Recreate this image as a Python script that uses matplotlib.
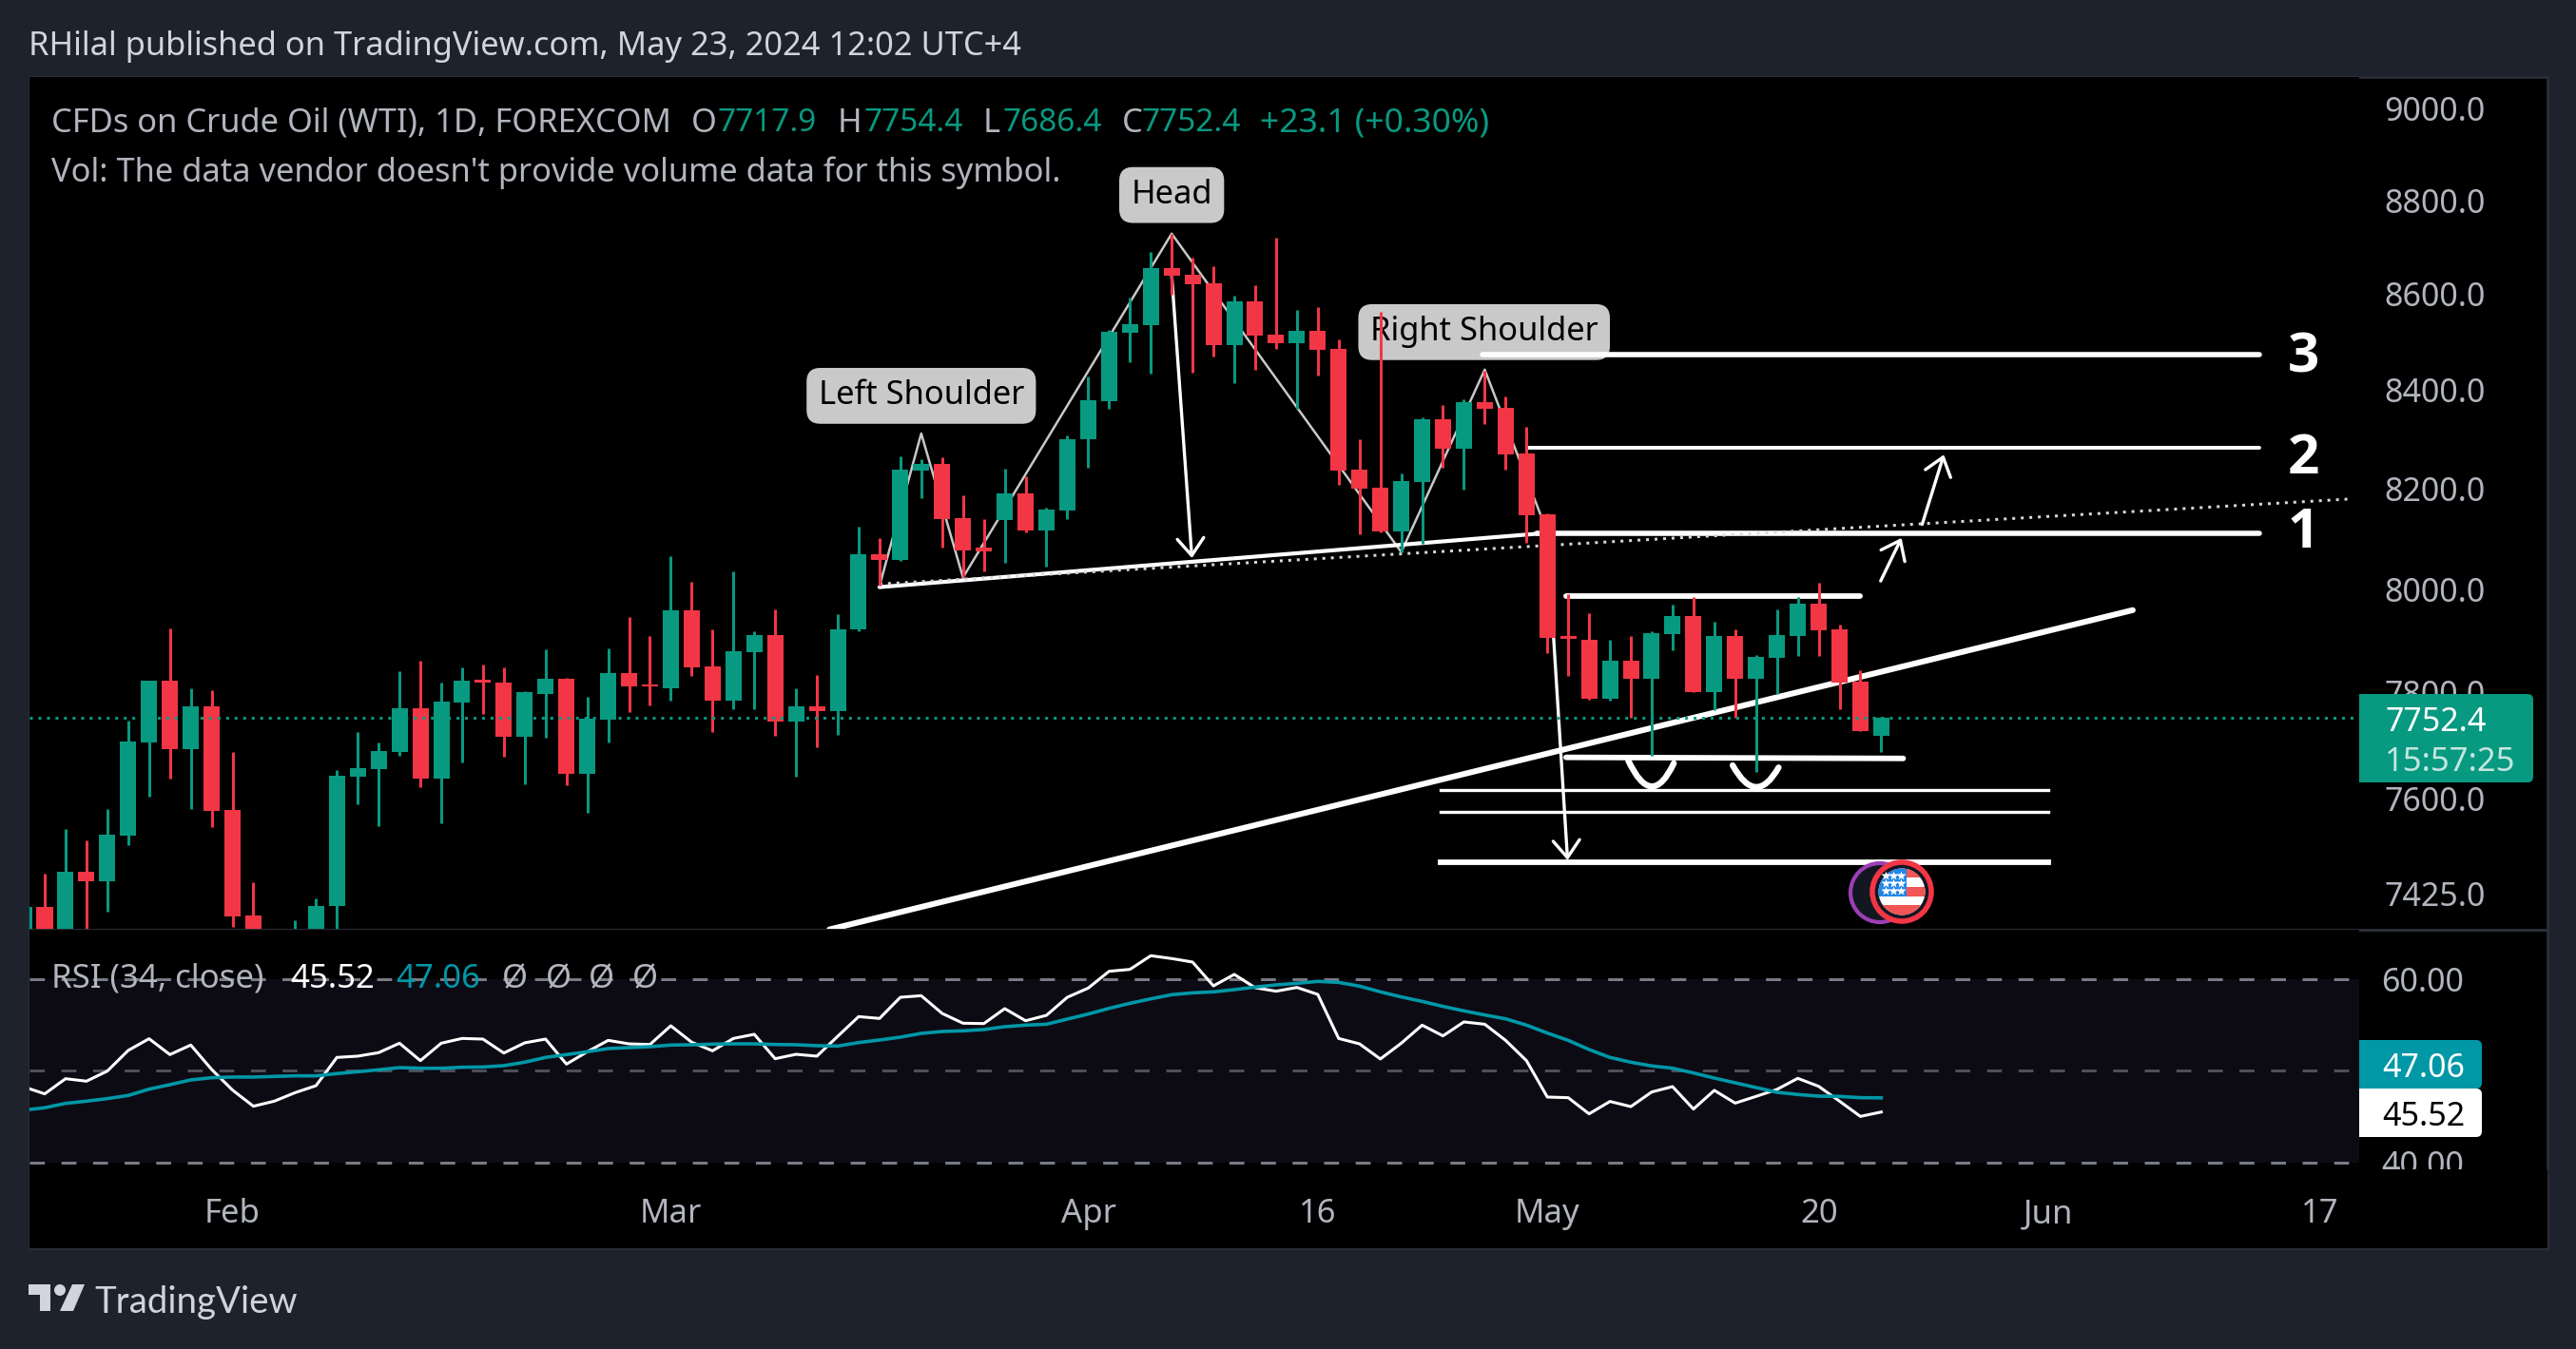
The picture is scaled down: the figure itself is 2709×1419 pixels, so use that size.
import numpy as np
import matplotlib
matplotlib.use('Agg')
import matplotlib.pyplot as plt
from matplotlib.patches import Rectangle, Circle, FancyBboxPatch, Polygon, PathPatch
from matplotlib.path import Path
from matplotlib.lines import Line2D
from matplotlib.transforms import Affine2D

W, H = 2709, 1419
plt.rcParams['font.family'] = ['Noto Sans', 'DejaVu Sans']
plt.rcParams['lines.scale_dashes'] = False

# candles, first one is the half hidden bar at the left edge
opens = [7340, 7401, 7330, 7465, 7448, 7531, 7705, 7823, 7693, 7773, 7579, 7385, 7320, 7300, 7340,
         7402, 7641, 7655, 7687, 7770, 7637, 7781, 7824, 7819, 7716, 7797, 7826, 7646, 7748, 7837,
         7815, 7808, 7959, 7850, 7785, 7877, 7911, 7745, 7773, 7765, 7921, 8069, 8058, 8236, 8249,
         8141, 8081, 8137, 8190, 8116, 8156, 8299, 8377, 8519, 8535, 8655, 8641, 8622, 8493, 8585,
         8515, 8497, 8523, 8485, 8238, 8201, 8114, 8213, 8340, 8280, 8375, 8364, 8271, 8148, 7909,
         7902, 7788, 7861, 7826, 7913, 7948, 7801, 7909, 7826, 7867, 7909, 7972, 7922, 7821, 7717.9]
highs = [7401, 7462, 7544, 7523, 7581, 7747, 7823, 7924, 7808, 7805, 7687, 7446, 7355, 7377, 7417,
         7654, 7725, 7705, 7841, 7861, 7819, 7849, 7853, 7849, 7803, 7883, 7828, 7792, 7885, 7946,
         7909, 8065, 8014, 7922, 8035, 7918, 7961, 7808, 7834, 7952, 8124, 8101, 8265, 8259, 8263,
         8186, 8139, 8239, 8224, 8162, 8308, 8428, 8525, 8592, 8689, 8728, 8677, 8659, 8597, 8618,
         8719, 8567, 8573, 8505, 8299, 8563, 8230, 8344, 8370, 8381, 8440, 8387, 8325, 8150, 7990,
         7953, 7902, 7909, 7918, 7970, 7985, 7937, 7922, 7872, 7961, 7985, 8013, 7931, 7843, 7754.4]
lows = [7320, 7320, 7310, 7350, 7392, 7513, 7603, 7637, 7581, 7547, 7365, 7300, 7270, 7280, 7320,
        7340, 7590, 7549, 7680, 7621, 7554, 7667, 7759, 7678, 7627, 7714, 7625, 7574, 7705, 7763,
        7776, 7785, 7832, 7725, 7769, 7769, 7718, 7641, 7696, 7720, 7918, 8006, 8056, 8181, 8081,
        8024, 8035, 8052, 8112, 8044, 8139, 8242, 8362, 8458, 8434, 8599, 8436, 8470, 8414, 8442,
        8485, 8362, 8430, 8207, 8109, 8112, 8073, 8090, 8242, 8198, 8331, 8238, 8092, 7876, 7832,
        7786, 7785, 7752, 7680, 7881, 7800, 7767, 7752, 7650, 7797, 7870, 7870, 7768, 7726, 7686.4]
closes = [7401, 7340, 7465, 7448, 7533, 7707, 7823, 7693, 7773, 7577, 7384, 7330, 7290, 7350, 7403,
          7642, 7657, 7689, 7770, 7637, 7783, 7823, 7819, 7716, 7800, 7826, 7646, 7750, 7837, 7812,
          7811, 7959, 7848, 7785, 7879, 7911, 7745, 7773, 7765, 7922, 8069, 8058, 8238, 8250, 8139,
          8077, 8075, 8190, 8116, 8158, 8300, 8379, 8521, 8537, 8655, 8639, 8620, 8493, 8585, 8513,
          8497, 8523, 8483, 8236, 8200, 8114, 8215, 8340, 8280, 8375, 8362, 8269, 8147, 7905, 7904,
          7788, 7861, 7826, 7914, 7948, 7801, 7909, 7826, 7868, 7911, 7972, 7920, 7819, 7727, 7752.4]

rsi = [48.26, 47.50, 49.15, 48.88, 49.98, 52.23, 53.51, 51.78, 52.82, 50.16, 47.91, 46.15, 46.70, 47.63, 48.39,
       51.47, 51.61, 51.99, 53.02, 51.12, 53.02, 53.54, 53.47, 51.95, 53.06, 53.47, 50.74, 52.09, 53.33, 52.95,
       52.88, 54.92, 53.13, 52.19, 53.54, 53.99, 51.33, 51.81, 51.61, 53.78, 55.92, 55.72, 58.03, 58.20, 56.27,
       55.20, 55.16, 56.79, 55.47, 56.06, 58.03, 59.03, 60.86, 61.07, 62.56, 62.25, 61.87, 59.27, 60.52, 59.07,
       58.69, 59.10, 58.34, 53.54, 52.95, 51.30, 53.02, 54.99, 53.82, 55.34, 55.09, 53.33, 51.12, 47.15, 47.08,
       45.32, 46.67, 46.11, 47.70, 48.29, 45.84, 47.88, 46.49, 47.22, 47.98, 49.19, 48.32, 46.70, 45.04, 45.52]
rsi_ma = [45.73, 45.98, 46.46, 46.70, 46.98, 47.32, 48.01, 48.50, 49.02, 49.26, 49.33, 49.33, 49.40, 49.46, 49.46,
          49.71, 49.91, 50.12, 50.36, 50.29, 50.29, 50.40, 50.43, 50.57, 50.95, 51.47, 51.78, 52.09, 52.44, 52.54,
          52.64, 52.82, 52.85, 52.92, 52.95, 52.95, 52.88, 52.85, 52.75, 52.71, 53.09, 53.37, 53.68, 54.09, 54.30,
          54.37, 54.51, 54.82, 54.99, 55.09, 55.65, 56.20, 56.82, 57.37, 57.86, 58.31, 58.51, 58.62, 58.86, 59.14,
          59.38, 59.55, 59.76, 59.65, 59.24, 58.62, 58.07, 57.58, 57.03, 56.55, 56.10, 55.68, 54.99, 54.13, 53.33,
          52.33, 51.47, 50.95, 50.54, 50.29, 49.78, 49.22, 48.70, 48.19, 47.67, 47.43, 47.25, 47.22, 47.08, 47.06]

price_ticks = [7425, 7600, 7800, 8000, 8200, 8400, 8600, 8800, 9000]
rsi_ticks = [40, 60]
time_ticks = [9, 30, 50, 61, 72, 85, 96, 109]
time_labels = ['Feb', 'Mar', 'Apr', '16', 'May', '20', 'Jun', '17']

# chart drawings as (bar, price)
zigzag = [(40, 8006), (42, 8311), (44, 8023), (54, 8728), (65, 8073), (69, 8442), (72, 8112)]
neckline = [(40, 8004), (72.3, 8112)]
dotted_neck = [(40, 8010), (110.6, 8179)]
trendline = [(37.6, 7360), (100.05, 7959)]
level_1 = [(71.5, 8110), (106.1, 8110)]
level_2 = [(71.1, 8282), (106.1, 8282)]
level_3 = [(68.9, 8473), (106.1, 8473)]
range_top = [(72.9, 7987), (87.0, 7987)]
range_bottom = [(72.9, 7677), (89.05, 7675)]
target_lines = [7615, 7575, 7483]
target_bars = (66.9, 96)
arrows = [((54.0, 8640), (54.97, 8061)), ((72.3, 7905), (72.97, 7486)),
          ((87.97, 8016), (88.97, 8101)), ((89.96, 8128), (91.0, 8268))]
smile_1 = [(75.88, 7671), (77.0, 7577), (78.06, 7666)]
smile_2 = [(80.88, 7662), (82.0, 7583), (83.08, 7658)]
labels = [('Left Shoulder', 42.0, 8388), ('Head', 54.0, 8811), ('Right Shoulder', 68.97, 8520)]

BG = '#1E222D'
GREEN = '#089981'
RED = '#F23645'
TXT = '#B2B5BE'
TEAL = '#0097A7'
px = Affine2D().scale(1, -1).translate(0, H)
lw3 = 2.16

fig = plt.figure(figsize=(W / 100, H / 100), dpi=100, facecolor=BG)


def axes_px(x0, y0, x1, y1, **kw):
    return fig.add_axes([x0 / W, 1 - y1 / H, (x1 - x0) / W, (y1 - y0) / H], **kw)


def ftext(x, y, s, color=TXT, size=24.8, ha='left', **kw):
    fig.text(x / W, 1 - y / H, s, color=color, fontsize=size, ha=ha, va='center_baseline', zorder=5, **kw)


def tag(x0, y0, x1, y1, color):
    fig.add_artist(FancyBboxPatch((x0 + 6, y0 + 6), x1 - x0 - 12, y1 - y0 - 12, boxstyle='round,pad=6,rounding_size=6',
                                  fc=color, ec='none', transform=px, zorder=4))
    fig.add_artist(Rectangle((x0, y0), 20, y1 - y0, fc=color, ec='none', transform=px, zorder=4))


fig.add_artist(Rectangle((31, 81), 2648, 1232, fc='black', ec='#2A2E39', lw=2, transform=px, zorder=-1))

# price pane
ax = axes_px(31, 81, 2481, 978, facecolor='black', zorder=1)
ax.set_yscale('log')
ax.set_xlim(-0.729, 110.9)
ax.set_ylim(7359.5, 9069.5)
for s in ax.spines.values():
    s.set_visible(False)
ax.set_xticks([])
ax.yaxis.tick_right()
ax.set_yticks(price_ticks)
ax.set_yticklabels([f'{p:.1f}' for p in price_ticks])
ax.minorticks_off()
ax.tick_params(axis='y', length=0, pad=19, labelsize=24.5, labelcolor=TXT)
for t in ax.get_yticklabels():
    t.set_ha('left')

for name, bar, price in labels:
    ax.text(bar, price, name, fontsize=24.8, color='black', ha='center', va='center', zorder=1,
            bbox=dict(boxstyle='round,pad=0.36,rounding_size=0.42', fc='#C9C9C9', ec='none'))

bars = np.arange(-1, 89)
ax.plot(*zip(*zigzag), color='#C8C8C8', lw=1.8, zorder=2)
for line, width in [(neckline, 3.0), (trendline, 4.4), (level_1, 4.0), (level_2, 2.8), (level_3, 4.0),
                    (range_top, 4.2), (range_bottom, 4.2)]:
    ax.plot(*zip(*line), color='white', lw=width, solid_capstyle='round', zorder=2)
ax.plot(*zip(*dotted_neck), color='#D8D8D8', lw=lw3, ls=(0, (lw3, 4.3)), zorder=2)
for y, width in zip(target_lines, [2.4, 2.4, 4.2]):
    ax.plot(target_bars, [y, y], color='white', lw=width, zorder=2)
for start, end in arrows:
    ax.annotate('', xy=end, xytext=start, zorder=2,
                arrowprops=dict(arrowstyle='->,head_length=13,head_width=10', mutation_scale=1, color='white',
                                lw=2.4, shrinkA=0, shrinkB=0))
for smile in (smile_1, smile_2):
    ax.add_patch(PathPatch(Path(smile, [Path.MOVETO, Path.CURVE3, Path.CURVE3]), fc='none', ec='white', lw=4.6,
                           capstyle='round', zorder=2))

colors = [GREEN if c >= o else RED for o, c in zip(opens, closes)]
ax.vlines(bars, lows, highs, colors=colors, lw=lw3, zorder=3)
bottoms = np.minimum(opens, closes)
heights = np.maximum(np.abs(np.subtract(closes, opens)), 3)
ax.bar(bars, heights, bottom=bottoms, width=0.775, color=colors, lw=0, zorder=3)
ax.axhline(closes[-1], color=GREEN, lw=lw3, ls=(0, (lw3, 4.3)), zorder=4)

# rsi pane
ax2 = axes_px(31, 978, 2481, 1230, facecolor='black', zorder=2)
ax2.set_xlim(-0.729, 110.9)
ax2.set_ylim(39.27, 65.39)
for s in ax2.spines.values():
    s.set_visible(False)
ax2.axhspan(40, 60, color='#0C0B14', lw=0, zorder=0)
dash = (0, (11.3, 12.6))
ax2.axhline(60, color='#787B86', lw=lw3, ls=dash, zorder=1)
ax2.axhline(50, color='#787B86', alpha=0.6, lw=lw3, ls=dash, zorder=1)
ax2.axhline(40, color='#787B86', lw=lw3, ls=dash, zorder=1)
ax2.plot(bars, rsi, color='white', lw=2.2, zorder=2)
ax2.plot(bars, rsi_ma, color=TEAL, lw=2.6, zorder=3)
ax2.set_xticks([])
ax2.yaxis.tick_right()
ax2.set_yticks(rsi_ticks)
ax2.set_yticklabels([f'{v:.2f}' for v in rsi_ticks])
ax2.tick_params(axis='y', length=0, pad=17, labelsize=24.5, labelcolor=TXT)
for t in ax2.get_yticklabels():
    t.set_ha('left')

# time axis
ax3 = axes_px(31, 1230, 2679, 1313, facecolor='black', zorder=3)
ax3.set_xlim(-0.729, (2679 - 47) / 21.95)
ax3.set_yticks([])
for s in ax3.spines.values():
    s.set_visible(False)
ax3.set_xticks(time_ticks)
ax3.set_xticklabels(time_labels)
ax3.tick_params(axis='x', length=0, pad=-38, labelsize=25, labelcolor=TXT, top=False, bottom=True)
ax3.patch.set_alpha(1)

fig.add_artist(Rectangle((31, 977), 2648, 3, fc='#2A2E39', ec='none', transform=px, zorder=2))

# scale tags
tag(2481, 730, 2664, 823, GREEN)
ftext(2508, 756, '7752.4', color='white', size=24.5)
ftext(2508, 798, '15:57:25', color='#C4E6DF', size=25)
tag(2481, 1094, 2610, 1145, TEAL)
ftext(2505, 1120, '47.06', color='white', size=24.5)
tag(2481, 1145, 2610, 1196, 'white')
ftext(2505, 1171, '45.52', color='black', size=24.5)

# big numbers next to the levels
for num, y in [('3', 369), ('2', 476), ('1', 554)]:
    ftext(2422, y, num, color='white', size=42, ha='center', fontweight='bold', family='Open Sans')

# event icons
fig.add_artist(Circle((1977, 939), 31, fc='#131722', ec='#9C3EB5', lw=3, transform=px, zorder=2))
fig.add_artist(Circle((2000, 938), 31, fc='#131722', ec=RED, lw=4, transform=px, zorder=2))
flag = Circle((2000, 938), 24.5, fc='white', ec='none', transform=px, zorder=2)
fig.add_artist(flag)
for y0, y1 in [(913, 923), (933, 943), (952, 963)]:
    r = Rectangle((1975, y0), 50, y1 - y0, fc='#F25555', ec='none', transform=px, zorder=2)
    fig.add_artist(r)
    r.set_clip_path(flag)
r = Rectangle((1975, 913), 30, 30, fc='#2187E8', ec='none', transform=px, zorder=2)
fig.add_artist(r)
r.set_clip_path(flag)
for sy in (920.7, 928.7, 936.7):
    fig.add_artist(Line2D([1982.5, 1991, 1999], [sy] * 3, ls='', marker='*', ms=7, mfc='white', mec='none',
                          transform=px, zorder=2))

# texts
ftext(30, 45, 'RHilal published on TradingView.com, May 23, 2024 12:02 UTC+4', color='#D1D4DC')
ftext(54, 126, 'CFDs on Crude Oil (WTI), 1D, FOREXCOM')
ftext(727, 126, 'O')
ftext(754, 126, '7717.9', color=GREEN, size=24)
ftext(881, 126, 'H')
ftext(908, 126, '7754.4', color=GREEN, size=24)
ftext(1034, 126, 'L')
ftext(1054, 126, '7686.4', color=GREEN, size=24)
ftext(1180, 126, 'C')
ftext(1200, 126, '7752.4', color=GREEN, size=24)
ftext(1325, 126, '+23.1 (+0.30%)', color=GREEN, size=25.5)
ftext(54, 178, "Vol: The data vendor doesn't provide volume data for this symbol.")
ftext(54, 1026, 'RSI (34, close)', size=25)
ftext(305, 1026, '45.52', color='white', size=25)
ftext(416, 1026, '47.06', color=TEAL, size=25)
for x in (528, 574, 619, 665):
    ftext(x, 1026, 'Ø', size=25)

# footer logo
LOGO = '#D1D4DC'
fig.add_artist(Polygon([(30, 1351), (53, 1351), (53, 1379), (42, 1379), (42, 1362), (30, 1362)], fc=LOGO, ec='none',
                       transform=px))
fig.add_artist(Circle((63, 1357), 6, fc=LOGO, ec='none', transform=px))
fig.add_artist(Polygon([(76, 1351), (89, 1351), (77, 1379), (63, 1379)], fc=LOGO, ec='none', transform=px))
fig.text(99 / W, 1 - 1381 / H, 'TradingView', color=LOGO, fontsize=27.6, family='Lato', ha='left', va='baseline')

fig.savefig('out.png', dpi=100, facecolor=BG)
